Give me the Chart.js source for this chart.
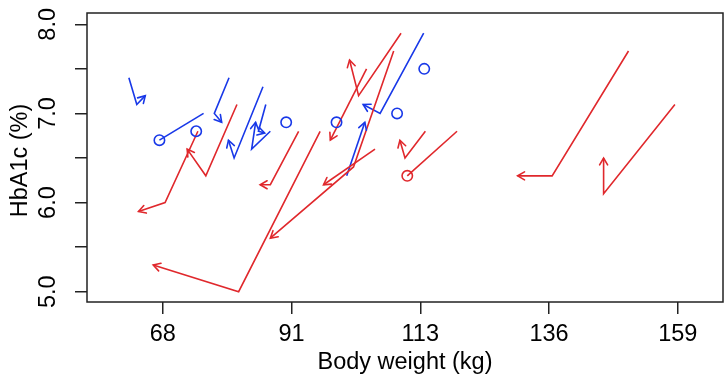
<!DOCTYPE html>
<html><head><meta charset="utf-8">
<script src="https://cdn.jsdelivr.net/npm/chart.js@4"></script>
<style>html,body{margin:0;padding:0;background:#fff}#c{display:block}</style>
</head><body>
<canvas id="c" width="728" height="383"></canvas>
<script>
// ---- axis ticks ----
const xTickValues = [68, 90.75, 113.5, 136.25, 159];
const xTickLabels = ['68', '91', '113', '136', '159'];
const yTickValues = [5, 5.5, 6, 6.5, 7, 7.5, 8];
const yTickLabels = ['5.0', '', '6.0', '', '7.0', '', '8.0'];
const xTitle = 'Body weight (kg)';
const yTitle = 'HbA1c (%)';

// ---- red group: body weight (kg) per visit, HbA1c (%) per visit ----
const redWeight = [
  [74.2, 68.4, 63.7],
  [81.1, 75.6, 72.3],
  [110.1, 102.6, 101.0],
  [104.0, 97.6],
  [95.8, 81.4, 66.3],
  [105.5, 96.4],
  [108.8, 101.7, 87.0],
  [114.4, 110.8, 109.9],
  [120.0, 111.2, 111.2],
  [150.3, 136.8, 130.7],
  [158.5, 145.9, 145.9],
  [92.0, 87.0, 85.2]
];
const redHbA1c = [
  [6.8, 6.0, 5.9],
  [7.1, 6.3, 6.6],
  [7.9, 7.2, 7.6],
  [7.5, 6.7],
  [6.8, 5.0, 5.3],
  [6.6, 6.2],
  [7.7, 6.4, 5.6],
  [6.8, 6.5, 6.7],
  [6.8, 6.3, 6.3],
  [7.7, 6.3, 6.3],
  [7.1, 6.1, 6.5],
  [6.8, 6.2, 6.2]
];

// ---- blue group ----
const blueWeight = [
  [62.0, 63.4, 64.9],
  [75.2, 67.4, 67.4],
  [79.7, 77.1, 78.4],
  [85.7, 80.6, 79.6],
  [86.2, 84.9, 86.0],
  [87.0, 83.7, 84.4],
  [114.1, 106.4, 103.4],
  [100.5, 103.7],
  [73.9, 73.9],
  [89.8, 89.8],
  [98.7, 98.7],
  [109.4, 109.4],
  [114.2, 114.2]
];
const blueHbA1c = [
  [7.4, 7.1, 7.2],
  [7.0, 6.7, 6.7],
  [7.4, 7.0, 6.9],
  [7.3, 6.5, 6.7],
  [7.1, 6.8, 6.78],
  [6.8, 6.6, 6.9],
  [7.9, 7.0, 7.1],
  [6.3, 6.9],
  [6.8, 6.8],
  [6.9, 6.9],
  [6.9, 6.9],
  [7.0, 7.0],
  [7.5, 7.5]
];

const FONT = '"Liberation Sans", Arial, Helvetica, sans-serif';
const RED = '#E0282C';
const BLUE = '#1838E8';
const AXIS = '#222222';

function makeSets(ws, hs, color) {
  return ws.map((w, i) => ({
    data: w.map((x, j) => ({ x: x, y: hs[i][j] })),
    borderColor: color,
    backgroundColor: color,
    borderWidth: 1.6,
    pointRadius: 0,
    showLine: true,
    tension: 0,
    fill: false
  }));
}

const decor = {
  id: 'decor',
  afterDatasetsDraw(chart) {
    const ctx = chart.ctx, xs = chart.scales.x, ys = chart.scales.y;
    ctx.save();
    chart.data.datasets.forEach(ds => {
      const d = ds.data, n = d.length;
      const p1 = d[n - 2], p2 = d[n - 1];
      const x1 = xs.getPixelForValue(p1.x), y1 = ys.getPixelForValue(p1.y);
      const x2 = xs.getPixelForValue(p2.x), y2 = ys.getPixelForValue(p2.y);
      ctx.strokeStyle = ds.borderColor;
      ctx.lineWidth = 1.6;
      ctx.lineCap = 'round';
      const len = Math.hypot(x2 - x1, y2 - y1);
      if (len < 0.5) {
        ctx.beginPath();
        ctx.arc(x2, y2, 5.2, 0, Math.PI * 2);
        ctx.stroke();
      } else {
        const ang = Math.atan2(y2 - y1, x2 - x1);
        const L = 8, A = Math.PI / 6;
        ctx.beginPath();
        ctx.moveTo(x2 - L * Math.cos(ang - A), y2 - L * Math.sin(ang - A));
        ctx.lineTo(x2, y2);
        ctx.lineTo(x2 - L * Math.cos(ang + A), y2 - L * Math.sin(ang + A));
        ctx.stroke();
      }
    });
    ctx.restore();
  },
  afterDraw(chart) {
    const ctx = chart.ctx, a = chart.chartArea, xs = chart.scales.x, ys = chart.scales.y;
    ctx.save();
    ctx.strokeStyle = AXIS;
    ctx.lineWidth = 1.5;
    ctx.strokeRect(a.left, a.top, a.right - a.left, a.bottom - a.top);
    ctx.fillStyle = '#000';
    ctx.font = '23.5px ' + FONT;
    // x tick labels
    ctx.textAlign = 'center';
    ctx.textBaseline = 'alphabetic';
    xTickValues.forEach((v, i) => {
      ctx.fillText(xTickLabels[i], xs.getPixelForValue(v), 341);
    });
    // x title
    ctx.fillText(xTitle, (a.left + a.right) / 2, 369);
    // y tick labels (rotated)
    yTickValues.forEach((v, i) => {
      if (!yTickLabels[i]) return;
      ctx.save();
      ctx.translate(55, ys.getPixelForValue(v));
      ctx.rotate(-Math.PI / 2);
      ctx.textAlign = 'center';
      ctx.fillText(yTickLabels[i], 0, 0);
      ctx.restore();
    });
    // y title
    ctx.save();
    ctx.translate(27, (a.top + a.bottom) / 2 + 3);
    ctx.rotate(-Math.PI / 2);
    ctx.textAlign = 'center';
    ctx.fillText(yTitle, 0, 0);
    ctx.restore();
    ctx.restore();
  }
};

new Chart(document.getElementById('c'), {
  type: 'scatter',
  data: { datasets: makeSets(redWeight, redHbA1c, RED).concat(makeSets(blueWeight, blueHbA1c, BLUE)) },
  options: {
    responsive: false,
    animation: false,
    devicePixelRatio: 1,
    layout: { padding: { left: 0, right: 5, top: 13, bottom: 0 } },
    plugins: { legend: { display: false }, tooltip: { enabled: false } },
    scales: {
      x: {
        type: 'linear', min: 54.60, max: 167.00,
        afterBuildTicks: s => { s.ticks = xTickValues.map(v => ({ value: v })); },
        afterFit: s => { s.height = 81; },
        ticks: { display: false },
        grid: { drawOnChartArea: false, drawTicks: true, tickLength: 12, color: AXIS, lineWidth: 1.5 },
        border: { display: false }
      },
      y: {
        type: 'linear', min: 4.8845, max: 8.1268,
        afterBuildTicks: s => { s.ticks = yTickValues.map(v => ({ value: v })); },
        afterFit: s => { s.width = 87; },
        ticks: { display: false },
        grid: { drawOnChartArea: false, drawTicks: true, tickLength: 12, color: AXIS, lineWidth: 1.5 },
        border: { display: false }
      }
    }
  },
  plugins: [decor]
});
</script>
</body></html>
